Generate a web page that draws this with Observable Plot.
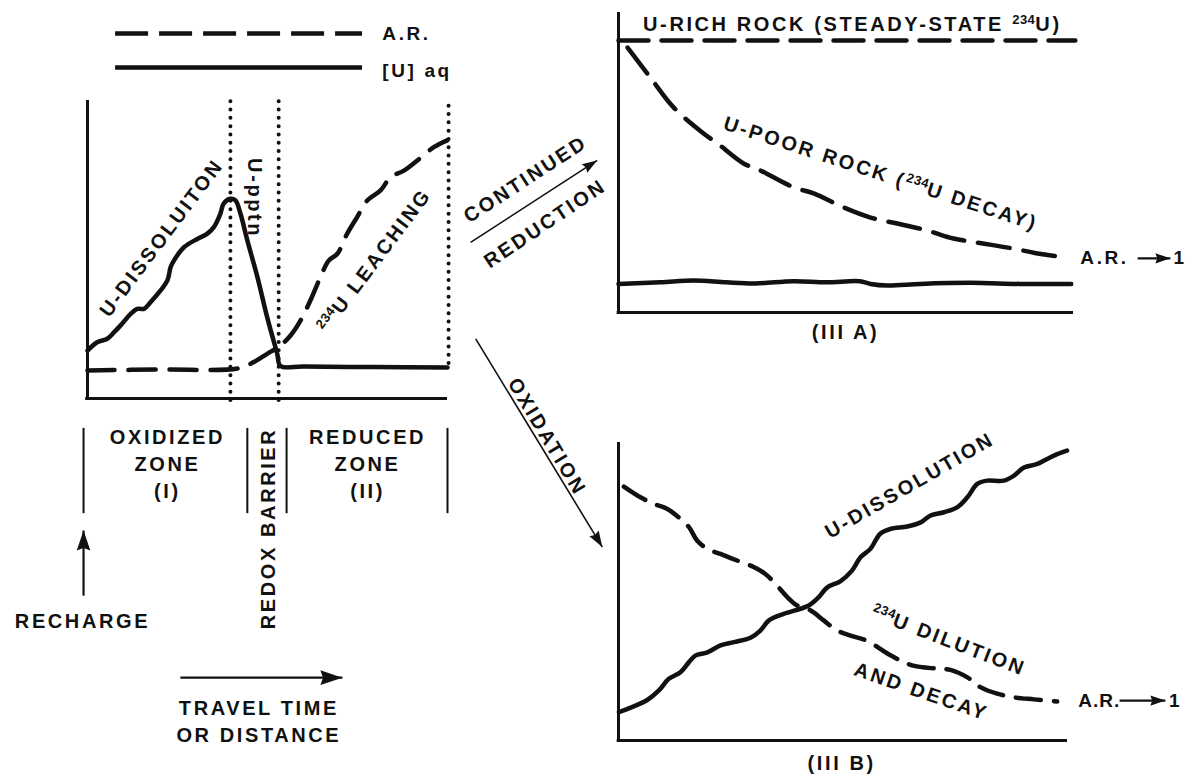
<!DOCTYPE html>
<html><head><meta charset="utf-8">
<script src="https://cdn.jsdelivr.net/npm/d3@7"></script>
<script src="https://cdn.jsdelivr.net/npm/@observablehq/plot@0.6"></script>
<style>
body{margin:0;background:#fff;}
#chart{position:relative;width:1187px;height:775px;background:#fff;overflow:hidden;}
</style></head><body><div id="chart"></div>
<script>
// ================= DATA =================
// Panel I–II (left): travel distance 0–100 vs relative level 0–100
const uAqLeft = [[0,16.2],[2.7,19.0],[5.5,20.2],[7.4,22.4],[9.2,24.7],[12.0,28.6],[13.8,30.3],[15.7,30.3],[17.5,32.5],[20.3,36.5],[22.2,39.9],[23.1,44.4],[24.0,46.6],[26.8,51.1],[30.5,53.9],[33.2,55.6],[35.1,57.9],[36.9,62.4],[37.8,65.8],[39.7,67.5],[41.1,66.9],[42.5,62.4],[44.4,53.4],[47.2,41.0],[49.9,27.5],[52.7,15.1],[53.6,11.0],[60,10.8],[80,10.6],[100,10.5]];
const arLeft = [[0,9.5],[20,9.8],[42.0,10.2],[46.2,12.3],[49.9,15.1],[53.6,17.9],[56.4,21.3],[59.2,26.4],[61.9,33.1],[64.7,41.0],[67.0,46.6],[69.4,48.9],[72.1,55.6],[74.9,61.3],[77.7,66.9],[81.4,70.3],[84.2,74.8],[87.9,77.0],[91.6,80.4],[96.2,84.9],[99.9,87.2]];
const zoneDividers = [{x:39.7,y1:-0.7,y2:100.7},{x:53.1,y1:-0.7,y2:100.7},{x:100.3,y1:11.8,y2:99}];
const zoneBars = [{x:-1.1},{x:44.4},{x:55.3},{x:100}];
const leftCurveLabels = [
  {text:"U-DISSOLUITON", x:20.1, y:54.7, rotate:-53},
  {text:"U-pptn", x:46.9, y:67.7, rotate:90},
  {text:"234U LEACHING", x:79.3, y:47.1, rotate:-53}
];
const zoneLabels = [
  {text:"OXIDIZED\nZONE\n(I)", x:22.2, y:-21.6, rotate:0},
  {text:"REDUCED\nZONE\n(II)", x:77.8, y:-21.6, rotate:0},
  {text:"REDOX BARRIER", x:49.7, y:-43.9, rotate:-90}
];
const flowLabels = [
  {text:"RECHARGE", x:-1.4, y:-74.7},
  {text:"TRAVEL TIME\nOR DISTANCE", x:47.6, y:-108.6}
];
const rechargeArrow = [{x1:-1.1, y1:-66.6, x2:-1.1, y2:-44.6}];
const travelArrow = [{x1:25.8, y1:-94.3, x2:70.8, y2:-94.3}];
const legendItems = [
  {label:"A.R.", dashed:true, y:123.3, ty:123.3, x1:7.8, x2:76.4, tx:81.9},
  {label:"[U] aq", dashed:false, y:111.8, ty:110.8, x1:7.8, x2:76.4, tx:81.9}
];

// Panel III A (continued reduction)
const uRichA = [[0,100],[100.4,100]];
const uPoorA = [[2.0,97.4],[7.0,86.4],[12.1,75.4],[18.7,65.8],[21.8,62.1],[27.5,54.8],[31.2,52.2],[38.5,46.0],[42.9,43.8],[49.5,38.6],[55.4,34.9],[61.3,32.7],[67.9,30.1],[73.6,27.2],[78.9,25.7],[86.8,23.5],[92.1,21.7],[98.7,20.2]];
const uAqA = [[0,10.5],[9.2,11.1],[16.5,11.8],[23.7,11.1],[30.1,10.7],[38.5,11.5],[45.7,11.1],[53.0,11.5],[55.4,10.5],[59.1,9.9],[66.4,10.5],[77.4,10.9],[88.4,10.5],[99.5,10.5]];
const labelsA = [
  {text:"U-RICH ROCK (STEADY-STATE 234U)", x:51.4, y:106.8, rotate:0},
  {text:"U-POOR ROCK (234U DECAY)", x:57.8, y:51.8, rotate:18},
  {text:"(III A)", x:49.9, y:-6.6, rotate:0},
  {text:"CONTINUED", x:-20.7, y:49.6, rotate:-33},
  {text:"REDUCTION", x:-16.4, y:33.3, rotate:-34}
];
const endLabelA = [{text:"A.R.", x:101.5, y:19.9},{text:"1", x:122.0, y:19.9}];
const endArrowA = [{x1:114.1, y1:19.9, x2:121.3, y2:19.9}];
const reductionArrow = [{x1:-32.5, y1:25.8, x2:-4.7, y2:55.9}];

// Panel III B (oxidation)
const uAqB = [[0.1,9.5],[3.0,11.2],[6.4,13.6],[9.0,16.8],[11.2,20.7],[13.8,22.9],[15.7,26.3],[17.1,28.5],[19.8,29.6],[22.7,31.9],[25.7,33.0],[29.4,34.5],[31.6,36.9],[33.5,40.3],[36.8,42.5],[40.5,44.2],[42.4,45.3],[44.6,48.1],[46.5,51.4],[49.4,53.4],[52.0,57.0],[53.9,61.5],[56.1,64.3],[58.3,69.4],[60.6,71.0],[64.3,71.8],[67.3,73.2],[69.5,75.5],[72.5,76.6],[75.5,78.3],[77.7,81.6],[79.9,86.1],[82.1,87.2],[85.8,87.2],[88.1,88.9],[90.3,91.6],[93.3,92.8],[95.5,94.5],[97.7,96.1],[99.9,97.3]];
const arB = [[1.2,85.2],[4.9,81.6],[7.9,79.4],[10.8,77.8],[13.4,74.9],[15.7,71.6],[17.5,67.1],[19.8,64.3],[22.7,62.6],[26.4,60.4],[30.1,58.2],[32.7,55.9],[35.3,52.0],[37.6,48.1],[39.8,45.3],[42.8,43.6],[45.7,40.3],[48.7,36.9],[51.7,35.2],[55.4,33.4],[60.7,28.5],[65.4,25.2],[71.0,24.1],[73.9,23.7],[77.7,21.2],[80.6,17.9],[84.3,15.7],[88.0,14.5],[92.5,13.8],[97.7,13.1]];
const labelsB = [
  {text:"U-DISSOLUTION", x:64.6, y:86.2, rotate:-30},
  {text:"234U DILUTION", x:73.7, y:34.2, rotate:21},
  {text:"AND DECAY", x:67.6, y:17.1, rotate:19},
  {text:"(III B)", x:49.7, y:-7.0, rotate:0},
  {text:"OXIDATION", x:-15.5, y:102.3, rotate:59}
];
const endLabelB = [{text:"A.R.", x:102.4, y:13.4},{text:"1", x:122.6, y:13.4}];
const endArrowB = [{x1:111.6, y1:13.4, x2:121.8, y2:13.4}];
const oxidationArrow = [{x1:-31.8, y1:134.8, x2:-3.6, y2:64.9}];

// ================= STYLE / HELPERS =================
const W = 1187, H = 775;
const INK = "#111";
const FONT = "'Liberation Sans', Arial, Helvetica, sans-serif";
const svgStyle = `position:absolute;left:0;top:0;background:transparent;overflow:visible;font-family:${FONT};font-weight:bold;letter-spacing:2.6px;color:${INK};`;
const headSymbol = {
  draw(ctx, size) {
    const L = Math.sqrt(size / Math.PI), w = L * 0.34;
    ctx.moveTo(0, 0); ctx.lineTo(w, L); ctx.lineTo(0, L * 0.88); ctx.lineTo(-w, L); ctx.closePath();
  }
};
const X = d => d[0], Y = d => d[1];
const curve = (data, opts = {}) => Plot.line(data, {x: X, y: Y, curve: "catmull-rom", stroke: INK, strokeWidth: 4.5, ...opts});
const labels = (data, opts = {}) => Plot.text(data, {x: "x", y: "y", text: "text", rotate: d => d.rotate ?? 0, fontSize: 20, fill: INK, lineHeight: 1.35, ...opts});
const arrow = (data, opts) => [
  Plot.link(data, {x1: "x1", y1: "y1", x2: "x2", y2: "y2", stroke: INK, strokeWidth: opts.w}),
  Plot.dot(data, {x: "x2", y: "y2", symbol: headSymbol, r: opts.head, rotate: opts.angle, fill: INK, stroke: "none"})
];
const scales = {x: {axis: null, domain: [0, 100]}, y: {axis: null, domain: [0, 100]}};

function superscript(svg, spacing = {}) {
  const ns = "http://www.w3.org/2000/svg";
  svg.querySelectorAll("text").forEach(t => {
    if (t.querySelector("tspan")) return;
    const s = t.textContent;
    if (spacing[s] != null) t.style.letterSpacing = spacing[s];
    const i = s.indexOf("234");
    if (i < 0) return;
    t.textContent = "";
    const a = document.createElementNS(ns, "tspan"); a.textContent = s.slice(0, i);
    const b = document.createElementNS(ns, "tspan"); b.textContent = "234";
    b.setAttribute("font-size", "13"); b.setAttribute("dy", "-7"); b.setAttribute("letter-spacing", "0.5");
    const c = document.createElementNS(ns, "tspan"); c.textContent = s.slice(i + 3); c.setAttribute("dy", "7");
    if (a.textContent) t.appendChild(a);
    t.appendChild(b); t.appendChild(c);
  });
  return svg;
}

// ================= PANEL I–II =================
const plotL = Plot.plot({
  width: W, height: H, marginLeft: 87, marginRight: W - 447, marginTop: 102, marginBottom: H - 398,
  ...scales, style: svgStyle,
  marks: [
    Plot.ruleX([0], {y1: -0.5, y2: 100.7, stroke: INK, strokeWidth: 3}),
    Plot.ruleY([0], {x1: -0.5, x2: 100, stroke: INK, strokeWidth: 3}),
    Plot.ruleX(zoneDividers, {x: "x", y1: "y1", y2: "y2", stroke: INK, strokeWidth: 4, strokeDasharray: "0,8.3", strokeLinecap: "round"}),
    curve(arLeft, {strokeDasharray: "27,14"}),
    curve(uAqLeft),
    labels(leftCurveLabels),
    Plot.ruleY(legendItems.filter(d => d.dashed), {y: "y", x1: "x1", x2: "x2", stroke: INK, strokeWidth: 4.5, strokeDasharray: "33,11"}),
    Plot.ruleY(legendItems.filter(d => !d.dashed), {y: "y", x1: "x1", x2: "x2", stroke: INK, strokeWidth: 4.5}),
    Plot.text(legendItems, {x: "tx", y: "ty", text: "label", textAnchor: "start", fontSize: 19, fill: INK}),
    Plot.ruleX(zoneBars, {x: "x", y1: -10.1, y2: -38.9, stroke: INK, strokeWidth: 2}),
    labels(zoneLabels),
    labels(flowLabels),
    ...arrow(rechargeArrow, {w: 2.2, head: 20, angle: 0}),
    ...arrow(travelArrow, {w: 2.2, head: 22, angle: 90})
  ]
});

// ================= PANEL III A =================
const plotA = Plot.plot({
  width: W, height: H, marginLeft: 618, marginRight: W - 1073, marginTop: 40, marginBottom: H - 312,
  ...scales, style: svgStyle,
  marks: [
    Plot.ruleX([0], {y1: -0.3, y2: 110.3, stroke: INK, strokeWidth: 3}),
    Plot.ruleY([0], {x1: -0.3, x2: 100, stroke: INK, strokeWidth: 3}),
    curve(uRichA, {curve: "linear", strokeDasharray: "30,13"}),
    curve(uPoorA, {strokeDasharray: "32,14"}),
    curve(uAqA),
    labels(labelsA),
    Plot.text(endLabelA, {x: "x", y: "y", text: "text", textAnchor: "start", fontSize: 19, fill: INK}),
    ...arrow(endArrowA, {w: 2.2, head: 15, angle: 90}),
    ...arrow(reductionArrow, {w: 1.6, head: 15, angle: 57.2})
  ]
});

// ================= PANEL III B =================
const plotB = Plot.plot({
  width: W, height: H, marginLeft: 618, marginRight: W - 1067, marginTop: 442, marginBottom: H - 740,
  ...scales, style: svgStyle,
  marks: [
    Plot.ruleX([0], {y1: -0.3, y2: 100, stroke: INK, strokeWidth: 3}),
    Plot.ruleY([0], {x1: -0.3, x2: 100, stroke: INK, strokeWidth: 3}),
    curve(arB, {strokeDasharray: "25,13"}),
    curve(uAqB),
    labels(labelsB),
    Plot.text(endLabelB, {x: "x", y: "y", text: "text", textAnchor: "start", fontSize: 19, fill: INK}),
    ...arrow(endArrowB, {w: 2.2, head: 15, angle: 90}),
    ...arrow(oxidationArrow, {w: 1.6, head: 16, angle: 148.7})
  ]
});

const root = document.getElementById("chart");
root.appendChild(superscript(plotL));
root.appendChild(superscript(plotA));
root.appendChild(superscript(plotB, {"A.R.": "1px"}));
</script></body></html>
